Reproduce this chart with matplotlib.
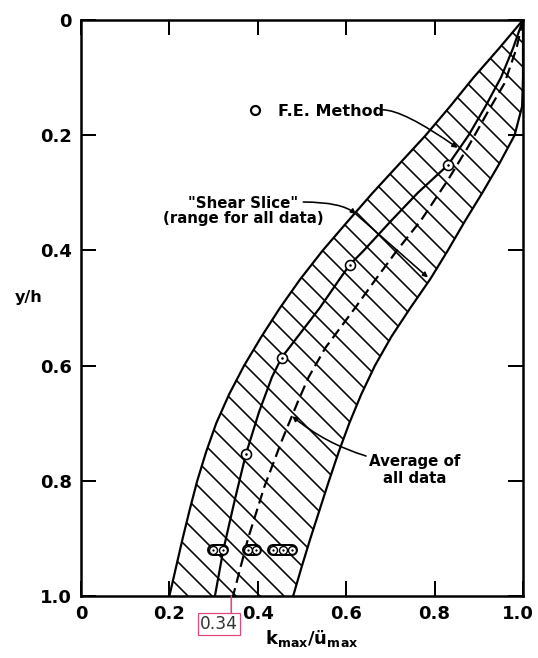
import numpy as np
import matplotlib.pyplot as plt
from matplotlib.transforms import ScaledTranslation

# band edges ("shear slice" range)
left_y = [0.0, 0.05, 0.1, 0.15, 0.2, 0.25, 0.3, 0.35, 0.4, 0.45, 0.5, 0.55, 0.6,
          0.65, 0.7, 0.75, 0.8, 0.85, 0.9, 0.95, 1.0]
left_x = [1.0, 0.945, 0.888, 0.835, 0.78, 0.72, 0.66, 0.603, 0.547, 0.496, 0.45, 0.408,
          0.369, 0.335, 0.306, 0.283, 0.263, 0.246, 0.23, 0.215, 0.2]
right_y = [0.0, 0.1, 0.15, 0.2, 0.25, 0.3, 0.35, 0.4, 0.45, 0.5, 0.55, 0.6, 0.65,
           0.7, 0.75, 0.8, 0.85, 0.9, 0.95, 1.0]
right_x = [1.0, 1.0, 0.998, 0.981, 0.946, 0.908, 0.868, 0.83, 0.79, 0.745, 0.702, 0.665,
           0.634, 0.607, 0.583, 0.561, 0.54, 0.519, 0.499, 0.48]

# F.E. method curve and its points
fe_y = [0.0, 0.05, 0.1, 0.15, 0.2, 0.252, 0.3, 0.35, 0.4, 0.425, 0.45, 0.5, 0.55,
        0.586, 0.62, 0.68, 0.754, 0.833, 0.92, 1.0]
fe_x = [1.0, 0.977, 0.95, 0.915, 0.877, 0.83, 0.762, 0.7, 0.64, 0.608, 0.585, 0.54,
        0.49, 0.454, 0.432, 0.403, 0.373, 0.348, 0.322, 0.303]
fe_pts_y = [0.252, 0.425, 0.586, 0.754]
fe_pts_x = [0.83, 0.608, 0.454, 0.373]

# average of all data
avg_y = [0.0, 0.05, 0.11, 0.16, 0.22, 0.278, 0.347, 0.4, 0.45, 0.5, 0.569, 0.62,
         0.662, 0.729, 0.81, 0.9, 1.0]
avg_x = [1.0, 0.985, 0.958, 0.92, 0.876, 0.83, 0.77, 0.715, 0.667, 0.62, 0.553, 0.515,
         0.491, 0.455, 0.415, 0.378, 0.344]

# point groups near the base
groups_y = 0.92
groups_x = [[0.299, 0.321], [0.378, 0.396], [0.434, 0.456, 0.477]]

ticks = [0, 0.2, 0.4, 0.6, 0.8, 1.0]
xtick_labels = ['0', '0.2', '0.4', '0.6', '0.8', '1.0']
ytick_labels = ['0', '0.2', '0.4', '0.6', '0.8', '1.0']
marked_x = 0.34

plt.rcParams['font.family'] = 'DejaVu Sans'
plt.rcParams['hatch.linewidth'] = 1.6

fig = plt.figure(figsize=(538 / 72, 658 / 72), dpi=72)
ax = fig.add_axes([81 / 538, 62 / 658, 442 / 538, 576 / 658])

ax.set_xlim(0, 1)
ax.set_ylim(1, 0)

# hatched band
ax.fill(np.r_[left_x, right_x[::-1]], np.r_[left_y, right_y[::-1]],
        fill=False, hatch='\\', edgecolor='black', linewidth=0)
ax.plot(left_x, left_y, color='black', lw=2.2)
ax.plot(right_x, right_y, color='black', lw=2.2)

ax.plot(fe_x, fe_y, color='black', lw=2.2)
ax.plot(avg_x, avg_y, color='black', lw=2.2, linestyle=(0, (5, 2.5)))

ax.plot(fe_pts_x, fe_pts_y, 'o', ms=10, mfc='white', mec='black', mew=1.6, zorder=5)
ax.plot(fe_pts_x, fe_pts_y, '.', ms=3, color='black', zorder=6)

for gx in groups_x:
    ax.plot(gx, [groups_y] * len(gx), color='black', lw=12, solid_capstyle='round', zorder=5)
    ax.plot(gx, [groups_y] * len(gx), color='white', lw=8, solid_capstyle='round', zorder=5)
    ax.plot(gx, [groups_y] * len(gx), 'o', ms=8, mfc='white', mec='black', mew=1.4, zorder=6)
    ax.plot(gx, [groups_y] * len(gx), '.', ms=2.5, color='black', zorder=7)

# axes styling
for s in ax.spines.values():
    s.set_linewidth(2.5)
ax.set_xticks(ticks)
ax.set_xticklabels(xtick_labels, fontweight='bold')
ax.set_yticks(ticks)
ax.set_yticklabels(ytick_labels, fontweight='bold')
ax.tick_params(direction='in', length=15, width=2, labelsize=18, pad=9,
               top=True, right=True)
last = ax.get_xticklabels()[-1]
last.set_transform(last.get_transform() + ScaledTranslation(-5 / 72, 0, fig.dpi_scale_trans))

# annotations
ax.plot([0.394], [0.156], 'o', ms=9, mfc='white', mec='black', mew=2.2)
ax.text(0.446, 0.158, 'F.E. Method', fontsize=16, fontweight='bold',
        va='center', ha='left')
ax.annotate('', xy=(0.852, 0.222), xytext=(0.683, 0.156),
            arrowprops=dict(arrowstyle='-|>', color='black', lw=1.6,
                            connectionstyle='angle3,angleA=0,angleB=-35',
                            shrinkA=0, shrinkB=0))

ax.text(0.367, 0.332, '"Shear Slice"\n(range for all data)', fontsize=15,
        fontweight='bold', ha='center', va='center', linespacing=1.0)
ax.annotate('', xy=(0.622, 0.337), xytext=(0.503, 0.316),
            arrowprops=dict(arrowstyle='-|>', color='black', lw=1.6,
                            connectionstyle='angle3,angleA=0,angleB=-40',
                            shrinkA=0, shrinkB=0))
ax.annotate('', xy=(0.785, 0.447), xytext=(0.622, 0.337),
            arrowprops=dict(arrowstyle='-|>', color='black', lw=1.6,
                            shrinkA=0, shrinkB=0))

ax.text(0.756, 0.781, 'Average of\nall data', fontsize=15, fontweight='bold',
        ha='center', va='center', linespacing=1.15)
ax.annotate('', xy=(0.478, 0.688), xytext=(0.645, 0.757),
            arrowprops=dict(arrowstyle='-|>', color='black', lw=1.6,
                            connectionstyle='arc3,rad=-0.1',
                            shrinkA=0, shrinkB=0))

ax.text(-0.118, 0.482, 'y/h', fontsize=16, fontweight='bold', ha='center', va='center')
ax.text(0.523, 1.073, r'k$_{\mathbf{max}}$/ü$_{\mathbf{max}}$',
        fontsize=18, fontweight='bold', ha='center', va='center')

# red marker for the average curve intercept
pink = '#e0457b'
ax.annotate('', xy=(marked_x, 1.0), xytext=(0, -19), textcoords='offset points',
            arrowprops=dict(arrowstyle='-', color=pink, lw=1.6, shrinkA=0, shrinkB=0),
            annotation_clip=False)
ax.annotate(f'{marked_x:.2f}', xy=(marked_x, 1.0), xytext=(-12, -28),
            textcoords='offset points', ha='center', va='center', fontsize=17,
            color='#333333', annotation_clip=False,
            bbox=dict(boxstyle='square,pad=0.12', fc='white', ec=pink, lw=1.2))

fig.savefig('out.png', dpi=72)
